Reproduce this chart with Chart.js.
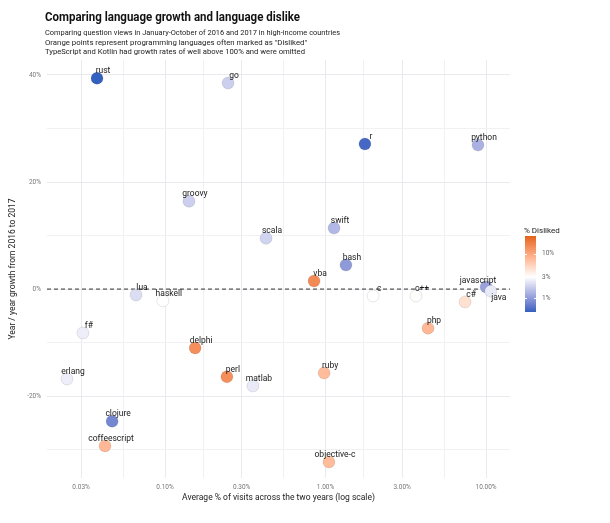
<!DOCTYPE html>
<html>
<head>
<meta charset="utf-8">
<script src="https://cdn.jsdelivr.net/npm/chart.js@4.4.1/dist/chart.umd.min.js"></script>
<style>
  html, body { margin: 0; padding: 0; background: #ffffff; }
  #wrap { width: 610px; height: 523px; position: relative; }
</style>
</head>
<body>
<div id="wrap"><canvas id="c" width="610" height="523"></canvas></div>
<script>
// ---------------- DATA ----------------
const languages = ["rust","go","groovy","scala","lua","haskell","r","python","swift","bash","vba","c","c++","javascript","java","c#","f#","delphi","erlang","perl","matlab","clojure","coffeescript","php","ruby","objective-c"];
const visitsPct = [0.0377,0.247,0.141,0.426,0.066,0.097,1.76,8.91,1.13,1.34,0.848,1.98,3.66,10.0,10.7,7.40,0.0308,0.154,0.0245,0.243,0.353,0.0468,0.0423,4.35,0.98,1.05];
const growthPct = [39.4,38.5,16.4,9.5,-1.1,-2.2,27.1,26.9,11.4,4.5,1.5,-1.3,-1.3,0.4,-0.4,-2.4,-8.2,-11.0,-16.8,-16.4,-18.1,-24.7,-29.3,-7.3,-15.7,-32.3];
const dislikedPct = [0.5,1.8,1.8,1.9,2.1,3.0,0.55,1.3,1.4,1.0,15,3.0,3.1,1.1,2.4,4.5,2.5,14,2.5,14,2.4,0.8,8,8,7.5,7.5];
const xTicks = [0.03,0.1,0.3,1,3,10];
const yTicks = [-20,0,20,40];
const legendTicks = [1,3,10];

const titleText = "Comparing language growth and language dislike";
const subtitleLines = [
  "Comparing question views in January-October of 2016 and 2017 in high-income countries",
  "Orange points represent programming languages often marked as \"Disliked\"",
  "TypeScript and Kotlin had growth rates of well above 100% and were omitted"
];
const xTitle = "Average % of visits across the two years (log scale)";
const yTitle = "Year / year growth from 2016 to 2017";
const legendTitle = "% Disliked";

// ---------------- COLOUR SCALE (Lab interpolation, midpoint 3%) ----------------
const LOW = [47, 95, 191], MID = [255, 255, 255], HIGH = [228, 98, 27];
const D_MIN = 0.49, D_MID = 3, D_MAX = 25;
function srgb2lin(c){ c/=255; return c<=0.04045? c/12.92 : Math.pow((c+0.055)/1.055,2.4); }
function lin2srgb(c){ c = c<=0.0031308? 12.92*c : 1.055*Math.pow(c,1/2.4)-0.055; return Math.max(0,Math.min(255,Math.round(c*255))); }
function rgb2lab(rgb){
  const [r,g,b] = rgb.map(srgb2lin);
  let x=(r*0.4124+g*0.3576+b*0.1805)/0.95047, y=(r*0.2126+g*0.7152+b*0.0722), z=(r*0.0193+g*0.1192+b*0.9505)/1.08883;
  const f=t=> t>0.008856? Math.cbrt(t) : 7.787*t+16/116;
  x=f(x); y=f(y); z=f(z);
  return [116*y-16, 500*(x-y), 200*(y-z)];
}
function lab2rgb(lab){
  let y=(lab[0]+16)/116, x=lab[1]/500+y, z=y-lab[2]/200;
  const fi=t=> t*t*t>0.008856? t*t*t : (t-16/116)/7.787;
  x=fi(x)*0.95047; y=fi(y); z=fi(z)*1.08883;
  const r=x*3.2406+y*-1.5372+z*-0.4986, g=x*-0.9689+y*1.8758+z*0.0415, b=x*0.0557+y*-0.2040+z*1.0570;
  return [lin2srgb(r),lin2srgb(g),lin2srgb(b)];
}
const LAB_LOW=rgb2lab(LOW), LAB_MID=rgb2lab(MID), LAB_HIGH=rgb2lab(HIGH);
function colorFor(d){
  const l=Math.log10(Math.max(D_MIN,Math.min(D_MAX,d))), m=Math.log10(D_MID);
  let a,b,t;
  if(l>=m){ t=(l-m)/(Math.log10(D_MAX)-m); a=LAB_MID; b=LAB_HIGH; }
  else { t=(m-l)/(m-Math.log10(D_MIN)); a=LAB_MID; b=LAB_LOW; }
  const lab=[0,1,2].map(i=>a[i]+(b[i]-a[i])*t);
  const c=lab2rgb(lab);
  return `rgb(${c[0]},${c[1]},${c[2]})`;
}

// ---------------- HELPERS ----------------
const FONT = "Roboto, 'Noto Sans', sans-serif";
function fitText(ctx, text, x, y, font, color, targetW, align){
  ctx.save();
  ctx.font = font; ctx.fillStyle = color; ctx.textBaseline = 'alphabetic';
  const w = ctx.measureText(text).width;
  const s = targetW && w > targetW ? targetW / w : 1;
  ctx.translate(x, y); ctx.scale(s, 1);
  ctx.textAlign = align || 'left';
  ctx.fillText(text, 0, 0);
  ctx.restore();
}

const labelOffsets = { "javascript": [-8, -6], "java": [8, 7] };

const decorPlugin = {
  id: 'decor',
  beforeDatasetsDraw(chart){
    const {ctx, chartArea, scales:{y}} = chart;
    const py = y.getPixelForValue(0);
    ctx.save();
    ctx.strokeStyle = '#333'; ctx.lineWidth = 1; ctx.setLineDash([4,3]);
    ctx.beginPath(); ctx.moveTo(chartArea.left, py); ctx.lineTo(chartArea.right, py); ctx.stroke();
    ctx.restore();
  },
  afterDatasetsDraw(chart){
    const {ctx, scales:{x,y}} = chart;
    ctx.save();
    ctx.font = "8.5px " + FONT; ctx.fillStyle = '#1a1a1a';
    ctx.textAlign = 'center'; ctx.textBaseline = 'middle';
    languages.forEach((name,i)=>{
      const px = x.getPixelForValue(visitsPct[i]), py = y.getPixelForValue(growthPct[i]);
      const off = labelOffsets[name] || [6, -7];
      ctx.fillText(name, px+off[0], py+off[1]);
    });
    ctx.restore();
  },
  afterDraw(chart){
    const ctx = chart.ctx;
    fitText(ctx, titleText, 45, 20.5, "bold 12px " + FONT, '#111', 255);
    subtitleLines.forEach((s,i)=> fitText(ctx, s, 45, 35 + i*9.5, "8px " + FONT, '#222', [295,262,260][i]));
    const bx=525, bw=11, top=236, bot=312;
    const lmin=Math.log10(D_MIN), lmax=Math.log10(D_MAX);
    const pos = v => top + (lmax - Math.log10(v)) / (lmax - lmin) * (bot - top);
    for(let py=top; py<bot; py++){
      const l = lmax - (py + 0.5 - top)/(bot-top)*(lmax-lmin);
      ctx.fillStyle = colorFor(Math.pow(10,l));
      ctx.fillRect(bx, py, bw, 1);
    }
    ctx.save();
    ctx.strokeStyle = '#fff'; ctx.lineWidth = 1;
    legendTicks.forEach(v=>{
      const py = Math.round(pos(v))+0.5;
      ctx.beginPath(); ctx.moveTo(bx,py); ctx.lineTo(bx+2,py); ctx.moveTo(bx+bw-2,py); ctx.lineTo(bx+bw,py); ctx.stroke();
    });
    ctx.restore();
    fitText(ctx, legendTitle, 524, 233, "8px " + FONT, '#222');
    ctx.save();
    ctx.font = "6.5px " + FONT; ctx.fillStyle = '#666'; ctx.textBaseline='middle'; ctx.textAlign='left';
    legendTicks.forEach(v=> ctx.fillText(v + '%', 542, pos(v)));
    ctx.restore();
  }
};

// ---------------- CHART ----------------
const xMinor = [];
for (let i=0;i<xTicks.length-1;i++) xMinor.push(Math.sqrt(xTicks[i]*xTicks[i+1]));
const yMinor = [-30,-10,10,30];

new Chart(document.getElementById('c'), {
  type: 'scatter',
  data: {
    datasets: [{
      data: languages.map((n,i)=>({x: visitsPct[i], y: growthPct[i]})),
      backgroundColor: dislikedPct.map(colorFor),
      borderColor: 'rgba(0,0,0,0.12)',
      borderWidth: 0.8,
      pointRadius: 6,
      pointHoverRadius: 6
    }]
  },
  options: {
    responsive: false,
    animation: false,
    events: [],
    layout: { padding: { top: 60, right: 100, bottom: 0, left: 0 } },
    plugins: { legend: { display: false }, tooltip: { enabled: false }, title: { display: false } },
    scales: {
      x: {
        type: 'logarithmic',
        min: 0.0184, max: 14.1,
        afterBuildTicks: s => { s.ticks = xTicks.concat(xMinor).sort((a,b)=>a-b).map(v=>({value:v})); },
        afterFit: s => { s.height = 45; },
        ticks: {
          autoSkip: false, maxRotation: 0, padding: 5,
          color: '#777', font: { family: FONT, size: 6.5 },
          callback: (v) => xTicks.some(t=>Math.abs(t-v)<1e-9) ? v.toFixed(2) + '%' : ''
        },
        grid: {
          drawTicks: false,
          color: ctx => xTicks.some(t=>Math.abs(t-ctx.tick.value)<1e-9) ? '#e9e9ee' : '#f1f1f4',
          lineWidth: 1
        },
        border: { display: false },
        title: { display: true, text: xTitle, color: '#222', font: { family: FONT, size: 8.5 }, padding: { top: 0, bottom: 20 } }
      },
      y: {
        min: -35.3, max: 42.8,
        afterBuildTicks: s => { s.ticks = yTicks.concat(yMinor).sort((a,b)=>a-b).map(v=>({value:v})); },
        afterFit: s => { s.width = 47; },
        ticks: {
          autoSkip: false, padding: 6,
          color: '#777', font: { family: FONT, size: 6.5 },
          callback: (v) => yTicks.includes(v) ? v + '%' : ''
        },
        grid: {
          drawTicks: false,
          color: ctx => yTicks.includes(ctx.tick.value) ? '#e9e9ee' : '#f1f1f4',
          lineWidth: 1
        },
        border: { display: false },
        title: { display: true, text: yTitle, color: '#222', font: { family: FONT, size: 8.5 }, padding: { top: 8, bottom: 0 } }
      }
    }
  },
  plugins: [decorPlugin]
});
</script>
</body>
</html>
